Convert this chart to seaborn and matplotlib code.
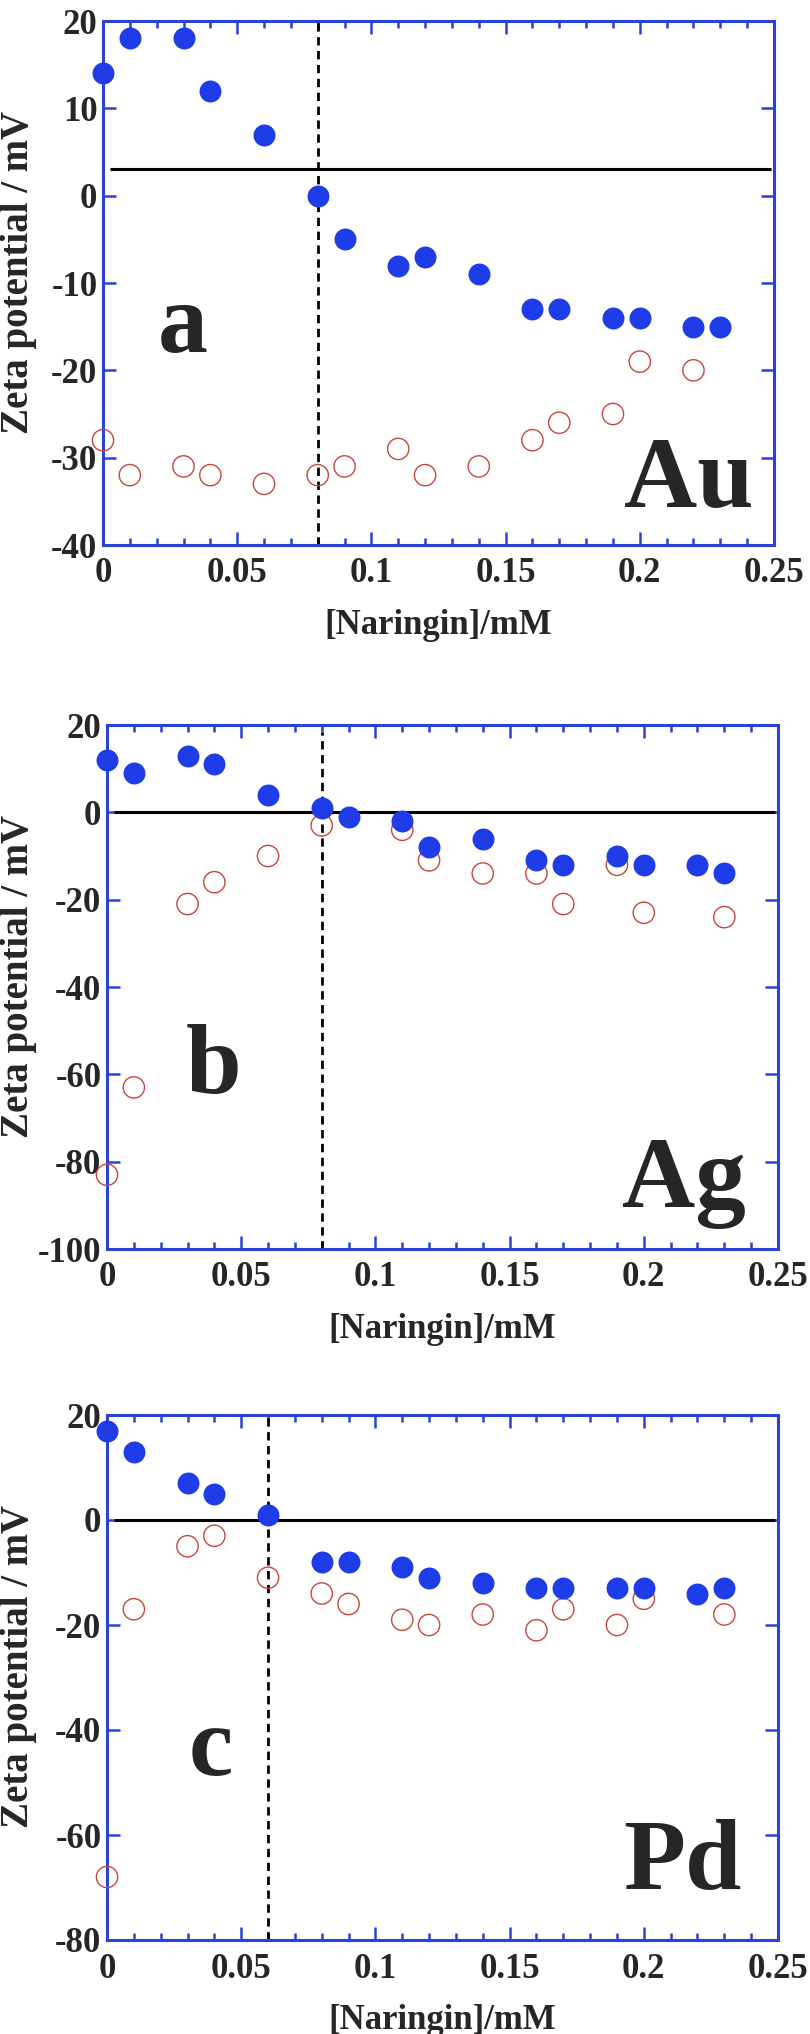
import matplotlib
matplotlib.use("Agg")
import matplotlib.pyplot as plt
import seaborn as sns
import pandas as pd
import numpy as np
from matplotlib.ticker import MultipleLocator, FixedLocator

# estilo base, depois fontes (set_style reescreve font.family)
sns.set_style("white")
plt.rcParams.update({
    "font.family": ["Liberation Serif", "DejaVu Serif"],
    "font.weight": "bold",
    "axes.unicode_minus": False,
})

AZUL = "#1e3de8"
AZUL_EIXO = "#2a42d6"
VERMELHO = "#c8463c"

# ---- dados ----
X_CHEIO = [0, 0.01, 0.03, 0.04, 0.06, 0.08, 0.09, 0.11, 0.12, 0.14, 0.16, 0.17, 0.19, 0.20, 0.22, 0.23]

# (a) Au
AU_CHEIO = [14, 18, 18, 12, 7, 0, -5, -8, -7, -9, -13, -13, -14, -14, -15, -15]
AU_X_ABERTO = [0, 0.01, 0.03, 0.04, 0.06, 0.08, 0.09, 0.11, 0.12, 0.14, 0.16, 0.17, 0.19, 0.20, 0.22]
AU_ABERTO = [-28, -32, -31, -32, -33, -32, -31, -29, -32, -31, -28, -26, -25, -19, -20]

# (b) Ag
AG_CHEIO = [12, 9, 13, 11, 4, 1, -1, -2, -8, -6, -11, -12, -10, -12, -12, -14]
AG_X_ABERTO = [0, 0.01, 0.03, 0.04, 0.06, 0.08, 0.11, 0.12, 0.14, 0.16, 0.17, 0.19, 0.20, 0.23]
AG_ABERTO = [-83, -63, -21, -16, -10, -3, -4, -11, -14, -14, -21, -12, -23, -24]

# (c) Pd
PD_CHEIO = [17, 13, 7, 5, 1, -8, -8, -9, -11, -12, -13, -13, -13, -13, -14, -13]
PD_X_ABERTO = [0, 0.01, 0.03, 0.04, 0.06, 0.08, 0.09, 0.11, 0.12, 0.14, 0.16, 0.17, 0.19, 0.20, 0.23]
PD_ABERTO = [-68, -17, -5, -3, -11, -14, -16, -19, -20, -18, -21, -17, -20, -15, -18]

XTICKS = [0, 0.05, 0.1, 0.15, 0.2, 0.25]
XTICK_LABELS = ["0", "0.05", "0.1", "0.15", "0.2", "0.25"]

PAINEIS = [
    dict(letra="a", metal="Au", cheio=AU_CHEIO, xab=AU_X_ABERTO, ab=AU_ABERTO,
         ylim=(-40, 20), passo=10, hline=3, vline=0.08, vtopo=1.0,
         pos=[103, 21, 774, 545], letra_xy=(0.119, 0.368), metal_xy=(0.873, 0.073)),
    dict(letra="b", metal="Ag", cheio=AG_CHEIO, xab=AG_X_ABERTO, ab=AG_ABERTO,
         ylim=(-100, 20), passo=20, hline=0, vline=0.08, vtopo=0.986,
         pos=[107, 725, 778, 1249], letra_xy=(0.159, 0.298), metal_xy=(0.86, 0.08)),
    dict(letra="c", metal="Pd", cheio=PD_CHEIO, xab=PD_X_ABERTO, ab=PD_ABERTO,
         ylim=(-80, 20), passo=20, hline=0, vline=0.06, vtopo=1.0,
         pos=[107, 1415, 778, 1940], letra_xy=(0.154, 0.314), metal_xy=(0.857, 0.097)),
]

W, H = 810, 2034
fig = plt.figure(figsize=(W / 100, H / 100), dpi=100)

for p in PAINEIS:
    x0, y0, x1, y1 = p["pos"]
    ax = fig.add_axes([x0 / W, 1 - y1 / H, (x1 - x0) / W, (y1 - y0) / H])

    df_cheio = pd.DataFrame({"x": X_CHEIO, "y": p["cheio"]})
    df_ab = pd.DataFrame({"x": p["xab"], "y": p["ab"]})

    ax.hlines(p["hline"], 0.0025, 0.249, color="black", linewidth=2.2, zorder=2)
    ax.axvline(p["vline"], ymax=p["vtopo"], color="black", linewidth=2.0,
               linestyle=(0, (3, 2)), zorder=2)

    sns.scatterplot(data=df_ab, x="x", y="y", ax=ax, marker="o", s=235,
                    facecolors="none", edgecolor=VERMELHO, linewidth=1.0,
                    clip_on=False, zorder=3)
    sns.scatterplot(data=df_cheio, x="x", y="y", ax=ax, marker="o", s=250,
                    color=AZUL, linewidth=0, clip_on=False, zorder=4)

    ax.set_xlim(0, 0.25)
    ax.set_ylim(*p["ylim"])
    ax.xaxis.set_major_locator(FixedLocator(XTICKS))
    ax.set_xticklabels(XTICK_LABELS)
    ax.xaxis.set_minor_locator(MultipleLocator(0.01))
    ax.yaxis.set_major_locator(MultipleLocator(p["passo"]))

    for lado in ax.spines.values():
        lado.set_color(AZUL_EIXO)
        lado.set_linewidth(2.2)
        lado.set_visible(True)

    ax.tick_params(axis="both", which="both", direction="in", color=AZUL_EIXO,
                   top=True, right=True, bottom=True, left=True, width=1.8)
    ax.tick_params(axis="both", which="major", length=9.5, labelsize=25)
    ax.tick_params(axis="x", which="minor", length=5)
    ax.tick_params(axis="x", which="major", pad=9)
    ax.tick_params(axis="y", which="major", pad=4)
    for rot in ax.get_xticklabels() + ax.get_yticklabels():
        rot.set_fontweight("bold")

    ax.set_xlabel("[Naringin]/mM", fontsize=25, fontweight="bold")
    ax.set_ylabel("Zeta potential / mV", fontsize=28, fontweight="bold")
    ax.xaxis.set_label_coords(0.5, -0.122)
    ax.yaxis.set_label_coords((37 - x0) / (x1 - x0), 0.52)

    ax.text(*p["letra_xy"], p["letra"], transform=ax.transAxes, fontsize=72,
            fontweight="bold", ha="center", va="baseline")
    ax.text(*p["metal_xy"], p["metal"], transform=ax.transAxes, fontsize=73,
            fontweight="bold", ha="center", va="baseline")

fig.savefig("out.png", dpi=100, facecolor="white")
